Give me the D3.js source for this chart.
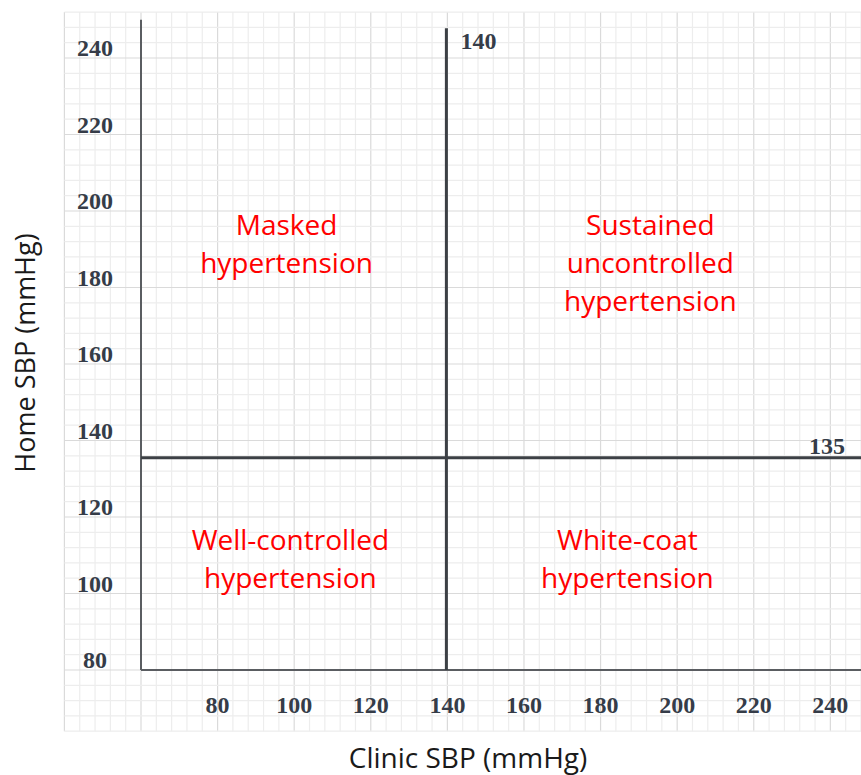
<!DOCTYPE html>
<html>
<head>
<meta charset="utf-8">
<script src="https://cdn.jsdelivr.net/npm/d3@7"></script>
<style>
  html, body { margin: 0; padding: 0; background: #fff; }
  svg { display: block; }
</style>
</head>
<body>
<svg id="chart" width="861" height="775"></svg>
<script>
// ---- data ----
const xTicks = [80, 100, 120, 140, 160, 180, 200, 220, 240];
const yTicks = [80, 100, 120, 140, 160, 180, 200, 220, 240];
const clinicThreshold = 140;
const homeThreshold = 135;
const quadrantNames = [
  ["Masked", "hypertension"],
  ["Sustained", "uncontrolled", "hypertension"],
  ["Well-controlled", "hypertension"],
  ["White-coat", "hypertension"]
];
const quadrantClinic = [98, 193, 99, 187];
const quadrantHome = [193.7, 193.7, 111.4, 111.4];
const xTitle = "Clinic SBP (mmHg)";
const yTitle = "Home SBP (mmHg)";

// ---- layout ----
const svg = d3.select("#chart");
const x = d3.scaleLinear().domain([60, 248]).range([141, 861]);
const y = d3.scaleLinear().domain([80, 240]).range([670, 58]);

const gridX = d3.range(40, 249, 4);
const gridY = d3.range(64, 253, 4);
const gx0 = x(40), gx1 = 861, gy0 = y(252), gy1 = y(64);

const grid = svg.append("g");
grid.selectAll("line.vx").data(gridX).join("line")
  .attr("x1", d => x(d)).attr("x2", d => x(d))
  .attr("y1", gy0).attr("y2", gy1)
  .attr("stroke", d => d % 20 === 0 ? "#dadada" : "#ededed")
  .attr("stroke-width", 1.2);
grid.selectAll("line.hy").data(gridY).join("line")
  .attr("y1", d => y(d)).attr("y2", d => y(d))
  .attr("x1", gx0).attr("x2", gx1)
  .attr("stroke", d => d % 20 === 0 ? "#dadada" : "#ededed")
  .attr("stroke-width", 1.2);

// axes (left and bottom)
svg.append("line")
  .attr("x1", x(60)).attr("x2", x(60))
  .attr("y1", y(250)).attr("y2", y(80))
  .attr("stroke", "#5a5d61").attr("stroke-width", 2);
svg.append("line")
  .attr("x1", x(60)).attr("x2", x(248))
  .attr("y1", y(80)).attr("y2", y(80))
  .attr("stroke", "#5a5d61").attr("stroke-width", 2);

// threshold lines
svg.append("line")
  .attr("x1", x(clinicThreshold) - 1).attr("x2", x(clinicThreshold) - 1)
  .attr("y1", y(247.8)).attr("y2", y(80))
  .attr("stroke", "#3c4045").attr("stroke-width", 3);
svg.append("line")
  .attr("x1", x(60)).attr("x2", x(248))
  .attr("y1", y(homeThreshold) - 2).attr("y2", y(homeThreshold) - 2)
  .attr("stroke", "#3c4045").attr("stroke-width", 3);

const tickFont = "'Liberation Serif', 'DejaVu Serif', serif";
const tickColor = "#353c48";

// y tick labels
svg.append("g").selectAll("text").data(yTicks).join("text")
  .attr("x", 95).attr("y", d => y(d) - 2)
  .attr("text-anchor", "middle")
  .attr("font-family", tickFont).attr("font-weight", "bold")
  .attr("font-size", 24).attr("fill", tickColor)
  .text(d => d);

// x tick labels
svg.append("g").selectAll("text").data(xTicks).join("text")
  .attr("x", d => x(d)).attr("y", 713)
  .attr("text-anchor", "middle")
  .attr("font-family", tickFont).attr("font-weight", "bold")
  .attr("font-size", 24).attr("fill", tickColor)
  .text(d => d);

// threshold annotations
svg.append("text")
  .attr("x", x(clinicThreshold) + 13).attr("y", 49)
  .attr("font-family", tickFont).attr("font-weight", "bold")
  .attr("font-size", 24).attr("fill", tickColor)
  .text(clinicThreshold);
svg.append("text")
  .attr("x", 845).attr("y", y(homeThreshold) - 6)
  .attr("text-anchor", "end")
  .attr("font-family", tickFont).attr("font-weight", "bold")
  .attr("font-size", 24).attr("fill", tickColor)
  .text(homeThreshold);

// quadrant labels
const labelFont = "'Open Sans', 'Noto Sans', sans-serif";
quadrantNames.forEach((lines, i) => {
  const t = svg.append("text")
    .attr("text-anchor", "middle")
    .attr("font-family", labelFont)
    .attr("font-size", 28).attr("fill", "#ff0000");
  lines.forEach((ln, j) => {
    t.append("tspan")
      .attr("x", x(quadrantClinic[i]))
      .attr("y", y(quadrantHome[i]) + j * 38)
      .text(ln);
  });
});

// axis titles
svg.append("text")
  .attr("x", 468).attr("y", 768)
  .attr("text-anchor", "middle")
  .attr("font-family", labelFont).attr("font-size", 28)
  .attr("fill", "#1a1a1a")
  .text(xTitle);
svg.append("text")
  .attr("transform", "translate(35,353) rotate(-90)")
  .attr("text-anchor", "middle")
  .attr("font-family", labelFont).attr("font-size", 27)
  .attr("fill", "#1a1a1a")
  .text(yTitle);
</script>
</body>
</html>
